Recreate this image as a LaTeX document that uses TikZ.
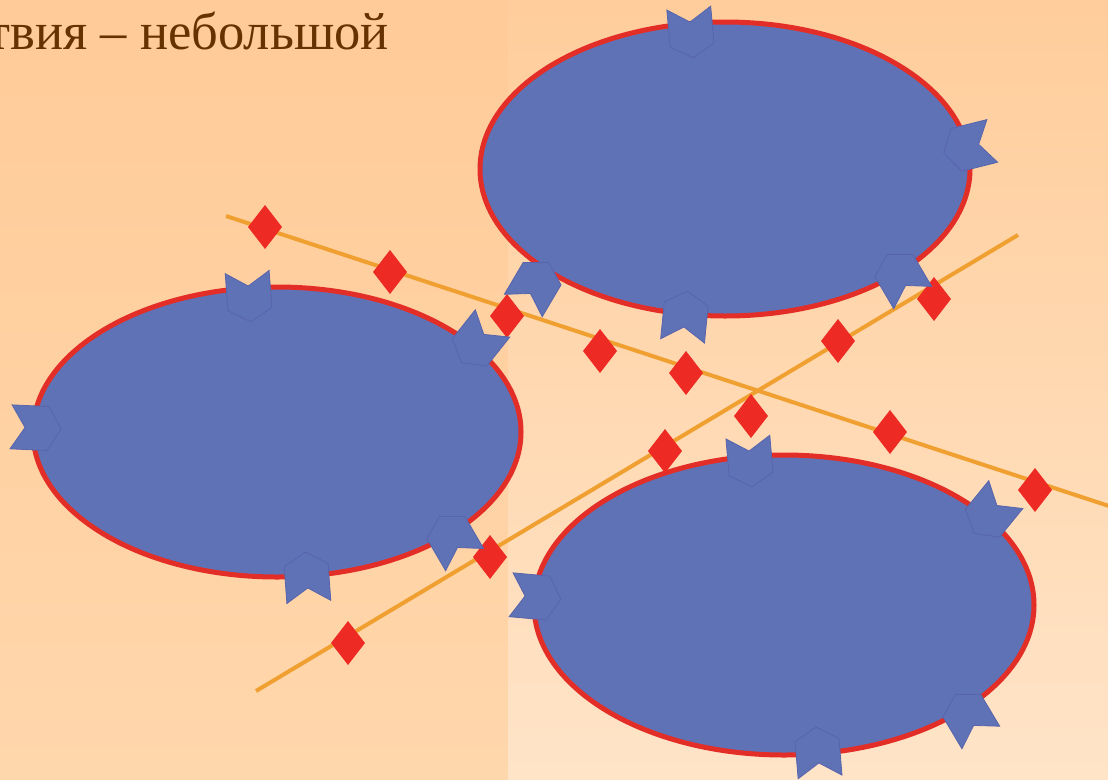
\documentclass[tikz,border=0pt]{standalone}
\usepackage{fontspec}
\setmainfont{Liberation Serif}
\definecolor{bgLT}{RGB}{255,203,152}
\definecolor{bgLB}{RGB}{255,215,172}
\definecolor{bgRT}{RGB}{255,205,155}
\definecolor{bgRB}{RGB}{255,228,200}
\definecolor{titlebrown}{RGB}{102,51,0}
\definecolor{ovalblue}{RGB}{96,114,182}
\definecolor{ovalred}{RGB}{226,46,38}
\definecolor{chevedge}{RGB}{88,100,172}
\definecolor{diamred}{RGB}{238,42,36}
\definecolor{lineorange}{RGB}{240,160,48}
\tikzset{
  guide/.style={draw=lineorange, line width=4pt},
  oval/.style={fill=ovalblue, draw=ovalred, line width=5pt},
  chevron/.style={fill=ovalblue, draw=chevedge, line width=0.8pt, line join=miter},
  diam/.style={fill=diamred, draw=none},
}
\begin{document}
\begin{tikzpicture}[x=1pt,y=-1pt]
\useasboundingbox (0,0) rectangle (1108,779);
\clip (0,0) rectangle (1108,779);
% background
\shade[top color=bgLT, bottom color=bgLB] (0,0) rectangle (508,779);
\shade[top color=bgRT, bottom color=bgRB] (508,0) rectangle (1108,779);
% title fragment
\node[anchor=base east, inner sep=0pt, text=titlebrown,
      font=\fontsize{52.5}{60}\selectfont] (title) at (389,49) {ствия – небольшой};
% guide lines
\coordinate (a1) at (226,216);
\coordinate (a2) at (1112,507);
\coordinate (b1) at (256,691);
\coordinate (b2) at (1018,235);
\draw[guide] (a1) -- (a2);
\draw[guide] (b1) -- (b2);
% ellipses
\draw[oval] (277,432) ellipse [x radius=244, y radius=145];
\draw[oval] (725,169) ellipse [x radius=245, y radius=147];
\draw[oval] (784,605) ellipse [x radius=250, y radius=150];
% diamonds
\foreach \x/\y in {265/227, 390/272, 507/316, 600/351, 686/373, 890/432, 1035/490,
                   348/643, 490/557, 665/451, 838/341, 934/299, 751/416} {
  \draw[diam, shift={(\x,\y)}] (0,-22) -- (17,0) -- (0,22) -- (-17,0) -- cycle;
}
% chevrons (pointing inwards along the ellipse normal)
\foreach \x/\y/\cx/\cy/\a/\b in {
   249/297/277/432/244/145, 477/343/277/432/244/145, 36/428/277/432/244/145,
   452/538/277/432/244/145, 307/577/277/432/244/145,
   691/33/725/169/245/147, 968/147/725/169/245/147, 536/284/725/169/245/147,
   685/316/725/169/245/147, 900/276/725/169/245/147,
   750/462/784/605/250/150, 990/514/784/605/250/150, 536/597/784/605/250/150,
   968/716/784/605/250/150, 818/752/784/605/250/150} {
  \pgfmathsetmacro\ratio{\a/\b}
  \pgfmathsetmacro\ang{atan2((\y-\cy)*\ratio,(\cx-\x)/\ratio)}
  \draw[chevron, shift={(\x,\y)}, rotate=\ang]
    (-25,-22) -- (12,-22) -- (25,0) -- (12,22) -- (-25,22) -- (-11,0) -- cycle;
}
\end{tikzpicture}
\end{document}
